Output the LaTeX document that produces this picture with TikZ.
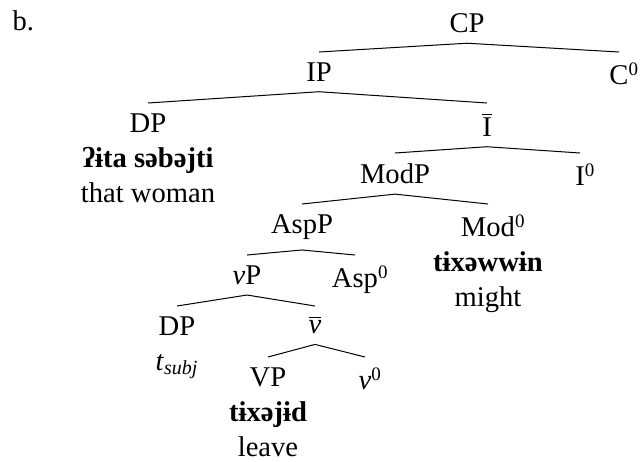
\documentclass[tikz,border=0pt]{standalone}
\usepackage{fontspec}
\setmainfont{Liberation Serif}
% head with a zero superscript hanging out to the right
\newcommand{\zhead}[1]{#1\rlap{\fontsize{9.5}{9.5}\selectfont\raisebox{4.5pt}{0}}}
% bar level
\newcommand{\xbar}[1]{$\overline{\mbox{#1}}$}
\begin{document}
\begin{tikzpicture}[x=0.5pt,y=-0.5pt,line width=0.5pt,
  cat/.style={anchor=north, inner sep=5pt, align=center,
    font=\fontsize{14.3}{17.5}\selectfont}]
  \useasboundingbox (0,0) rectangle (640,461);
  \node[anchor=base west, inner sep=0pt, font=\fontsize{14.3}{17.5}\selectfont] (ex) at (12,30) {b.};

  % one row of nodes per level
  \node[cat] (CP) at (467,3) {CP};
  \node[cat] (IP) at (319,52) {IP};
  \node[cat] (C0) at (619,52) {\zhead{C}};
  \node[cat] (DPs) at (148,103) {DP\\\textbf{ʔɨta səbəjti}\\that woman};
  \node[cat] (Ibar) at (487,103) {\xbar{I}};
  \node[cat] (ModP) at (395,153) {ModP};
  \node[cat] (I0) at (580,153) {\zhead{I}};
  \node[cat] (AspP) at (302,204) {AspP};
  \node[cat] (Mod0) at (488,204) {\zhead{Mod}\\\textbf{tɨxəwwɨn}\\might};
  \node[cat] (vP) at (247,255) {\textit{v}P};
  \node[cat] (Asp0) at (355,255) {\zhead{Asp}};
  \node[cat] (DPt) at (177,306) {DP\\\textit{t}\textsubscript{\textit{subj}}};
  \node[cat] (vbar) at (315,306) {\xbar{\itshape v}};
  \node[cat] (VP) at (268,357) {VP\\\textbf{tɨxəjɨd}\\leave};
  \node[cat] (v0) at (365,357) {\zhead{\textit{v}}};

  % branches
  \draw (CP.south) -- (IP.north);
  \draw (CP.south) -- (C0.north);
  \draw (IP.south) -- (DPs.north);
  \draw (IP.south) -- (Ibar.north);
  \draw (Ibar.south) -- (ModP.north);
  \draw (Ibar.south) -- (I0.north);
  \draw (ModP.south) -- (AspP.north);
  \draw (ModP.south) -- (Mod0.north);
  \draw (AspP.south) -- (vP.north);
  \draw (AspP.south) -- (Asp0.north);
  \draw (vP.south) -- (DPt.north);
  \draw (vP.south) -- (vbar.north);
  \draw (vbar.south) -- (VP.north);
  \draw (vbar.south) -- (v0.north);
\end{tikzpicture}
\end{document}
